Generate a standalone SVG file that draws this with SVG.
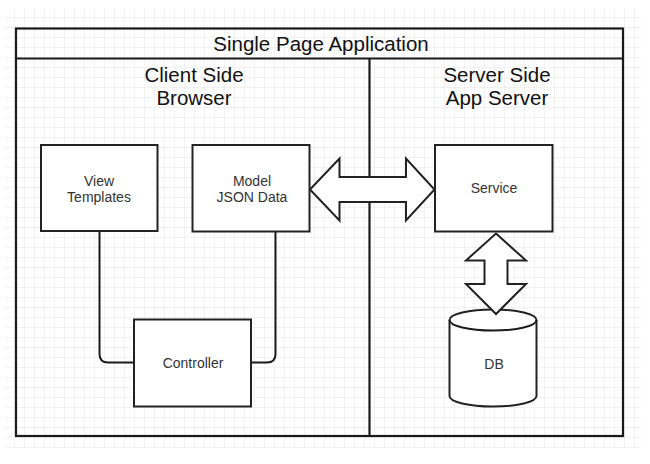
<svg xmlns="http://www.w3.org/2000/svg" width="650" height="464" viewBox="0 0 650 464">
  <defs>
    <pattern id="grid" x="5" y="8" width="10" height="10" patternUnits="userSpaceOnUse">
      <path d="M10 0V10M0 10H10" fill="none" stroke="#e3e3e3" stroke-width="1"/>
    </pattern>
  </defs>
  <style>
    .frame { fill: none; stroke: #1a1a1a; stroke-width: 2.2; }
    .box { fill: #ffffff; stroke: #222222; stroke-width: 2; }
    .conn { fill: none; stroke: #1a1a1a; stroke-width: 2; }
    .arrow { fill: #ffffff; stroke: #222222; stroke-width: 2; stroke-linejoin: miter; }
    .hdr { font-family: "Liberation Sans", Arial, sans-serif; font-size: 20.5px; fill: #111111; text-anchor: middle; }
    .lbl { font-family: "Liberation Sans", Arial, sans-serif; font-size: 14px; fill: #333333; text-anchor: middle; }
  </style>
  <rect width="650" height="464" fill="#ffffff"/>
  <rect x="5" y="8" width="636" height="440" fill="url(#grid)"/>

  <g id="frame">
    <rect x="16" y="28.5" width="607" height="407.5" fill="none" class="frame"/>
    <line x1="16" y1="58.5" x2="623" y2="58.5" class="frame"/>
    <line x1="369.5" y1="58.5" x2="369.5" y2="436" class="frame"/>
    <text x="321" y="50.5" class="hdr">Single Page Application</text>
    <text x="194" y="82" class="hdr">Client Side</text>
    <text x="194" y="104.5" class="hdr">Browser</text>
    <text x="497" y="82" class="hdr">Server Side</text>
    <text x="497" y="104.5" class="hdr">App Server</text>
  </g>

  <g id="connectors">
    <path d="M99.5 231 V354 Q99.5 362.5 108 362.5 H134" class="conn"/>
    <path d="M275.5 231 V354 Q275.5 362.5 267 362.5 H251" class="conn"/>
    <polygon points="310,189.5 339.5,158.5 339.5,177 406,177 406,158.5 434.5,189.5 406,220.5 406,202 339.5,202 339.5,220.5" class="arrow"/>
  </g>

  <g id="view-templates">
    <rect x="41" y="145" width="116.5" height="86" class="box"/>
    <text x="99" y="185.5" class="lbl">View</text>
    <text x="99" y="201.5" class="lbl">Templates</text>
  </g>

  <g id="model">
    <rect x="192.5" y="145" width="117" height="86.5" class="box"/>
    <text x="252" y="185.5" class="lbl">Model</text>
    <text x="252" y="201.5" class="lbl">JSON Data</text>
  </g>

  <g id="service">
    <rect x="435" y="145" width="117.5" height="86.5" class="box"/>
    <text x="494" y="193" class="lbl">Service</text>
  </g>

  <g id="controller">
    <rect x="134" y="319.5" width="117" height="87" class="box"/>
    <text x="193" y="368" class="lbl">Controller</text>
  </g>

  <g id="db">
    <path d="M449.5 320 A43.5 10.5 0 0 1 536.5 320 V396 A43.5 10.5 0 0 1 449.5 396 Z" class="box"/>
    <path d="M449.5 320 A43.5 10.5 0 0 0 536.5 320" class="conn"/>
    <text x="494" y="368.5" class="lbl">DB</text>
  </g>

  <g id="db-arrow">
    <polygon points="496,233.5 526,260.5 507.5,260.5 507.5,284 526,284 496,314 466,284 484.5,284 484.5,260.5 466,260.5" class="arrow"/>
  </g>
</svg>
